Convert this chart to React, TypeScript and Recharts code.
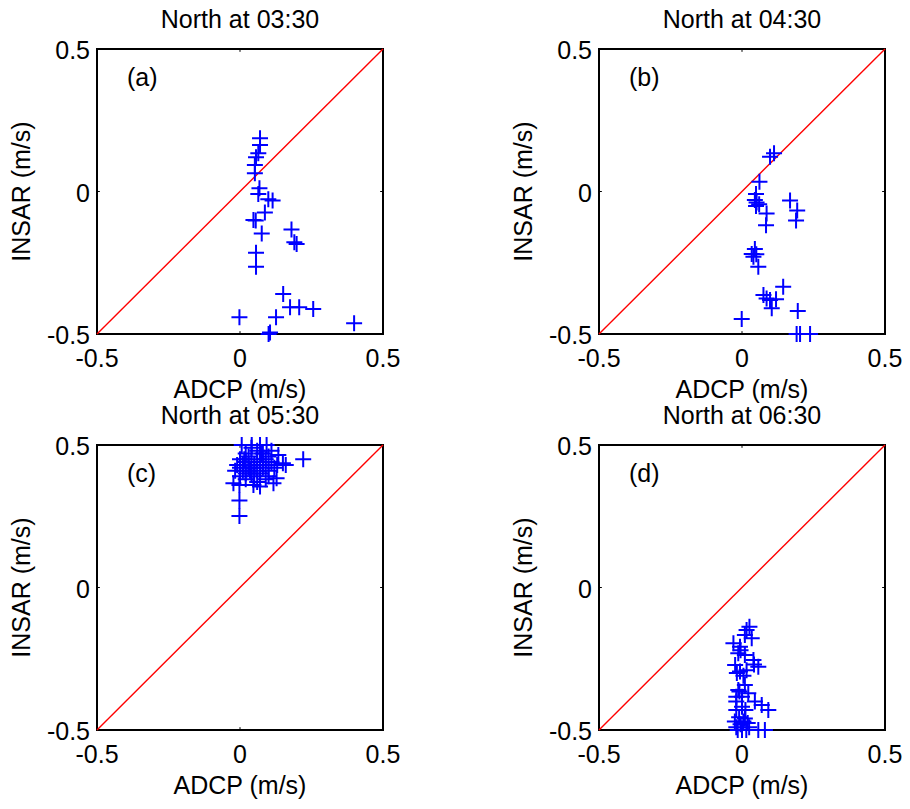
import {
  Customized,
  ReferenceArea,
  ReferenceLine,
  Scatter,
  ScatterChart,
  XAxis,
  YAxis,
} from "recharts";

const FONT = "'Liberation Sans', Arial, Helvetica, sans-serif";

const axisTicks = [-0.5, 0, 0.5];
const titles = ["North at 03:30", "North at 04:30", "North at 05:30", "North at 06:30"];
const letters = ["(a)", "(b)", "(c)", "(d)"];

// ADCP (x) vs INSAR (y), m/s
const northA = [
  { x: 0.07, y: 0.187 }, { x: 0.07, y: 0.163 }, { x: 0.064, y: 0.134 }, { x: 0.056, y: 0.12 },
  { x: 0.052, y: 0.093 }, { x: 0.052, y: 0.064 }, { x: 0.068, y: 0.011 }, { x: 0.064, y: -0.009 },
  { x: 0.099, y: -0.027 }, { x: 0.114, y: -0.032 }, { x: 0.087, y: -0.074 }, { x: 0.047, y: -0.1 },
  { x: 0.055, y: -0.102 }, { x: 0.076, y: -0.147 }, { x: 0.18, y: -0.133 }, { x: 0.198, y: -0.184 },
  { x: 0.19, y: -0.178 }, { x: 0.056, y: -0.215 }, { x: 0.056, y: -0.264 }, { x: 0.151, y: -0.36 },
  { x: 0.175, y: -0.406 }, { x: 0.207, y: -0.406 }, { x: 0.256, y: -0.412 }, { x: -0.002, y: -0.441 },
  { x: 0.126, y: -0.441 }, { x: 0.399, y: -0.462 }, { x: 0.105, y: -0.495 }, { x: 0.1, y: -0.5 },
];

const northB = [
  { x: 0.098, y: 0.122 }, { x: 0.112, y: 0.134 }, { x: 0.061, y: 0.034 }, { x: 0.049, y: -0.009 },
  { x: 0.045, y: -0.03 }, { x: 0.051, y: -0.039 }, { x: 0.049, y: -0.051 }, { x: 0.06, y: -0.045 },
  { x: 0.086, y: -0.077 }, { x: 0.084, y: -0.118 }, { x: 0.168, y: -0.032 }, { x: 0.193, y: -0.067 },
  { x: 0.189, y: -0.102 }, { x: 0.045, y: -0.202 }, { x: 0.034, y: -0.219 }, { x: 0.04, y: -0.229 },
  { x: 0.05, y: -0.22 }, { x: 0.057, y: -0.264 }, { x: 0.144, y: -0.334 }, { x: 0.075, y: -0.363 },
  { x: 0.086, y: -0.375 }, { x: 0.098, y: -0.381 }, { x: 0.119, y: -0.378 }, { x: 0.104, y: -0.41 },
  { x: 0.195, y: -0.419 }, { x: -0.001, y: -0.447 }, { x: 0.191, y: -0.5 }, { x: 0.203, y: -0.5 },
  { x: 0.238, y: -0.5 },
];

const northC = [
  { x: 0.0, y: 0.42 }, { x: 0.01, y: 0.43 }, { x: 0.02, y: 0.44 }, { x: -0.01, y: 0.43 },
  { x: 0.0, y: 0.45 }, { x: 0.01, y: 0.41 }, { x: 0.02, y: 0.4 }, { x: 0.03, y: 0.42 },
  { x: 0.04, y: 0.44 }, { x: 0.03, y: 0.46 }, { x: 0.02, y: 0.47 }, { x: 0.05, y: 0.43 },
  { x: 0.06, y: 0.41 }, { x: 0.05, y: 0.39 }, { x: 0.04, y: 0.4 }, { x: 0.06, y: 0.45 },
  { x: 0.07, y: 0.44 }, { x: 0.08, y: 0.42 }, { x: 0.07, y: 0.4 }, { x: 0.09, y: 0.43 },
  { x: 0.1, y: 0.41 }, { x: 0.11, y: 0.44 }, { x: 0.12, y: 0.42 }, { x: 0.13, y: 0.43 },
  { x: 0.134, y: 0.465 }, { x: 0.15, y: 0.436 }, { x: 0.1, y: 0.46 }, { x: 0.08, y: 0.47 },
  { x: 0.06, y: 0.48 }, { x: 0.04, y: 0.49 }, { x: 0.07, y: 0.5 }, { x: 0.041, y: 0.5 },
  { x: 0.006, y: 0.5 }, { x: 0.093, y: 0.5 }, { x: 0.11, y: 0.48 }, { x: 0.09, y: 0.38 },
  { x: 0.128, y: 0.383 }, { x: 0.117, y: 0.366 }, { x: 0.07, y: 0.354 }, { x: 0.047, y: 0.36 },
  { x: -0.023, y: 0.366 }, { x: 0.02, y: 0.38 }, { x: 0.0, y: 0.39 }, { x: 0.06, y: 0.37 },
  { x: 0.08, y: 0.44 }, { x: 0.16, y: 0.43 }, { x: 0.221, y: 0.45 }, { x: -0.002, y: 0.305 },
  { x: -0.002, y: 0.251 }, { x: -0.002, y: 0.36 }, { x: 0.03, y: 0.43 }, { x: 0.05, y: 0.42 },
  { x: 0.015, y: 0.45 }, { x: 0.035, y: 0.41 }, { x: 0.09, y: 0.45 }, { x: -0.017, y: 0.41 },
  { x: 0.1, y: 0.39 }, { x: 0.075, y: 0.47 },
];

const northD = [
  { x: 0.026, y: -0.138 }, { x: 0.016, y: -0.149 }, { x: 0.01, y: -0.167 }, { x: 0.034, y: -0.178 },
  { x: -0.03, y: -0.196 }, { x: -0.007, y: -0.208 }, { x: -0.005, y: -0.22 }, { x: 0.01, y: -0.237 },
  { x: -0.013, y: -0.231 }, { x: 0.04, y: -0.254 }, { x: -0.024, y: -0.272 }, { x: 0.057, y: -0.278 },
  { x: 0.042, y: -0.27 }, { x: -0.007, y: -0.295 }, { x: 0.016, y: -0.29 }, { x: -0.018, y: -0.3 },
  { x: 0.005, y: -0.31 }, { x: 0.01, y: -0.342 }, { x: -0.013, y: -0.36 }, { x: 0.022, y: -0.371 },
  { x: -0.009, y: -0.365 }, { x: -0.02, y: -0.383 }, { x: 0.0, y: -0.383 }, { x: 0.045, y: -0.4 },
  { x: -0.02, y: -0.4 }, { x: 0.0, y: -0.418 }, { x: 0.069, y: -0.412 }, { x: 0.092, y: -0.43 },
  { x: -0.02, y: -0.43 }, { x: 0.012, y: -0.43 }, { x: -0.01, y: -0.455 }, { x: 0.01, y: -0.46 },
  { x: -0.025, y: -0.47 }, { x: 0.02, y: -0.475 }, { x: -0.005, y: -0.48 }, { x: 0.025, y: -0.49 },
  { x: -0.02, y: -0.49 }, { x: 0.0, y: -0.5 }, { x: 0.015, y: -0.5 }, { x: -0.015, y: -0.5 },
  { x: 0.057, y: -0.5 }, { x: 0.08, y: -0.5 }, { x: 0.005, y: -0.47 },
];

const W = 405;
const H = 410;
const MARGIN = { top: 49, right: 22, left: 0, bottom: 0 };
const Y_W = 97;
const X_H = 76;

function Cross(props: any) {
  const { cx, cy } = props;
  if (cx == null || cy == null) return null;
  return (
    <path
      d={`M${cx - 8},${cy}H${cx + 8}M${cx},${cy - 8}V${cy + 8}`}
      stroke="#0000ff"
      strokeWidth={2}
      fill="none"
    />
  );
}

function XTick({ x, y, payload }: any) {
  return (
    <text x={x} y={y + 33} textAnchor="middle" fontSize={25} fontFamily={FONT} fill="#000">
      {payload.value}
    </text>
  );
}

function YTick({ x, y, payload }: any) {
  return (
    <text x={x - 7} y={y + 10} textAnchor="end" fontSize={25} fontFamily={FONT} fill="#000">
      {payload.value}
    </text>
  );
}

function Panel({ title, letter, data }: { title: string; letter: string; data: { x: number; y: number }[] }) {
  const cx = Y_W + 143;
  const cy = MARGIN.top + 142.5;
  return (
    <ScatterChart width={W} height={H} margin={MARGIN}>
      <XAxis
        type="number"
        dataKey="x"
        domain={[-0.5, 0.5]}
        ticks={axisTicks}
        interval={0}
        axisLine={false}
        tickLine={false}
        tickSize={0}
        tickMargin={0}
        height={X_H}
        tick={<XTick />}
      />
      <YAxis
        type="number"
        dataKey="y"
        domain={[-0.5, 0.5]}
        ticks={axisTicks}
        interval={0}
        axisLine={false}
        tickLine={false}
        tickSize={0}
        tickMargin={0}
        width={Y_W}
        tick={<YTick />}
      />
      <ReferenceArea x1={-0.5} x2={0.5} y1={-0.5} y2={0.5} fill="none" stroke="#000" strokeWidth={2} />
      <ReferenceLine segment={[{ x: 0, y: -0.5 }, { x: 0, y: -0.49 }]} stroke="#000" />
      <ReferenceLine segment={[{ x: 0, y: 0.5 }, { x: 0, y: 0.49 }]} stroke="#000" />
      <ReferenceLine segment={[{ x: -0.5, y: 0 }, { x: -0.49, y: 0 }]} stroke="#000" />
      <ReferenceLine segment={[{ x: 0.5, y: 0 }, { x: 0.49, y: 0 }]} stroke="#000" />
      <ReferenceLine
        segment={[{ x: -0.5, y: -0.5 }, { x: 0.5, y: 0.5 }]}
        stroke="#ff0000"
        strokeWidth={1.4}
      />
      <Scatter data={data} shape={<Cross />} isAnimationActive={false} />
      <Customized
        component={() => (
          <g fontFamily={FONT} fill="#000">
            <text x={cx} y={28} textAnchor="middle" fontSize={25}>
              {title}
            </text>
            <text x={127} y={86} fontSize={25}>
              {letter}
            </text>
            <text x={cx} y={398} textAnchor="middle" fontSize={25}>
              ADCP (m/s)
            </text>
            <text transform={`translate(30,${cy}) rotate(-90)`} textAnchor="middle" fontSize={25}>
              INSAR (m/s)
            </text>
          </g>
        )}
      />
    </ScatterChart>
  );
}

const panelData = [northA, northB, northC, northD];
const spots = [
  { left: 0, top: 0 },
  { left: 502, top: 0 },
  { left: 0, top: 396 },
  { left: 502, top: 396 },
];

export default function App() {
  return (
    <div style={{ position: "absolute", left: 0, top: 0, width: 910, height: 809, background: "#fff" }}>
      {panelData.map((d, i) => (
        <div key={i} style={{ position: "absolute", left: spots[i].left, top: spots[i].top }}>
          <Panel title={titles[i]} letter={letters[i]} data={d} />
        </div>
      ))}
    </div>
  );
}
